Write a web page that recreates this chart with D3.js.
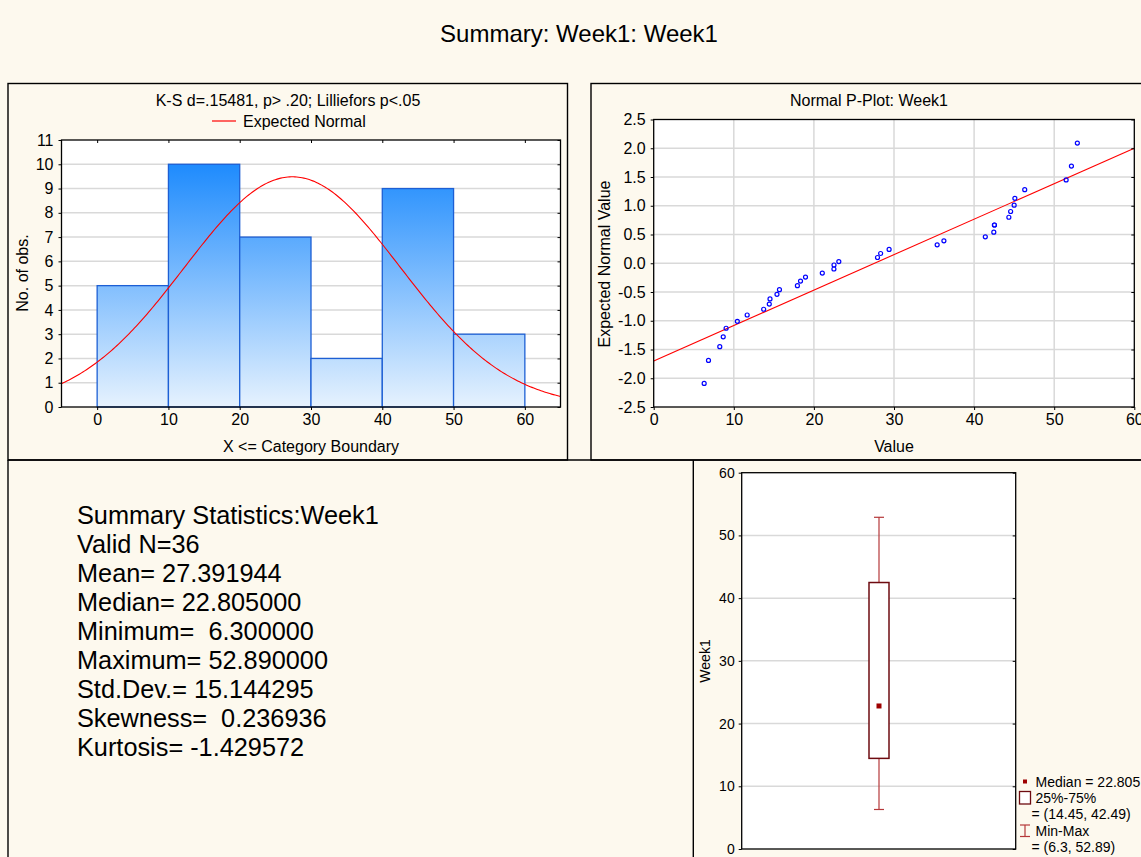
<!DOCTYPE html>
<html><head><meta charset="utf-8">
<script src="https://cdn.jsdelivr.net/npm/d3@7/dist/d3.min.js"></script>
<style>
html,body{margin:0;padding:0;background:#fdf9ee;}
svg{display:block;font-family:"Liberation Sans",Arial,sans-serif;}
text{fill:#000;}
</style></head>
<body>
<svg id="c" width="1141" height="857"></svg>
<script>
// ---------- DATA ----------
const mainTitle = "Summary: Week1: Week1";
const histTitle = "K-S d=.15481, p> .20; Lilliefors p<.05";
const binEdges = [0, 10, 20, 30, 40, 50, 60];
const binCounts = [5, 10, 7, 2, 9, 3];
const histYTicks = [0,1,2,3,4,5,6,7,8,9,10,11];
const histXTicks = [0,10,20,30,40,50,60];
const statMean = 27.391944, statSD = 15.144295, statN = 36;

const pValues = [6.30,6.84,8.25,8.68,9.04,10.44,11.67,13.73,14.43,14.52,15.39,15.70,17.94,18.33,18.95,21.05,22.50,22.51,23.11,27.94,28.33,29.39,35.39,36.23,41.40,42.46,42.54,42.54,44.34,44.56,45.00,45.09,46.32,51.49,52.15,52.89];
const pExpected = [-2.09,-1.69,-1.45,-1.28,-1.13,-1.01,-0.90,-0.80,-0.71,-0.62,-0.54,-0.46,-0.39,-0.31,-0.24,-0.17,-0.10,-0.03,0.03,0.10,0.17,0.24,0.32,0.39,0.46,0.54,0.665,0.665,0.80,0.90,1.01,1.13,1.28,1.45,1.69,2.09];
const pLineX = [0, 60];
const pLineY = [-1.70, 2.00];
const pXTicks = [0,10,20,30,40,50,60];
const pYTicks = [-2.5,-2.0,-1.5,-1.0,-0.5,0.0,0.5,1.0,1.5,2.0,2.5];

const boxStats = {min: 6.3, q1: 14.45, median: 22.805, q3: 42.49, max: 52.89};
const boxYTicks = [0,10,20,30,40,50,60];

const summaryLines = ["Summary Statistics:Week1","Valid N=36","Mean= 27.391944","Median= 22.805000","Minimum=  6.300000","Maximum= 52.890000","Std.Dev.= 15.144295","Skewness=  0.236936","Kurtosis= -1.429572"];
const legendLines = ["Median = 22.805","25%-75%","= (14.45, 42.49)","Min-Max","= (6.3, 52.89)"];

// ---------- DRAW ----------
const svg = d3.select("#c");
const grid = "#d9d9d9";

// panels
const frame = svg.append("g").attr("fill","none").attr("stroke","#000").attr("stroke-width",1.4);
frame.append("rect").attr("x",8).attr("y",83.5).attr("width",559.5).attr("height",376.5);
frame.append("rect").attr("x",591).attr("y",83.5).attr("width",560).attr("height",376.5);
frame.append("line").attr("x1",8).attr("x2",1141).attr("y1",460).attr("y2",460);
frame.append("line").attr("x1",8).attr("x2",8).attr("y1",460).attr("y2",857);
frame.append("line").attr("x1",693.3).attr("x2",693.3).attr("y1",460).attr("y2",857);

svg.append("text").attr("x",579).attr("y",42).attr("text-anchor","middle")
  .style("font-size","24px").text(mainTitle);

function styleAxis(g, fs){
  g.select(".domain").remove();
  g.selectAll(".tick line").attr("stroke","#000");
  g.selectAll(".tick text").style("font-size",fs).attr("fill","#000").style("font-family","'Liberation Sans',Arial,sans-serif");
}

// ===== Histogram =====
{
  const L=61.5, R=560.5, T=140, B=407;
  const x = d3.scaleLinear().domain([-5,65]).range([L,R]);
  const y = d3.scaleLinear().domain([0,11]).range([B,T]);
  const g = svg.append("g");
  const defs = svg.append("defs");
  const clip = defs.append("clipPath").attr("id","hclip");
  clip.append("rect").attr("x",L).attr("y",T).attr("width",R-L).attr("height",B-T);
  const grad = defs.append("linearGradient").attr("id","hgrad").attr("gradientUnits","userSpaceOnUse")
    .attr("x1",0).attr("x2",0).attr("y1",y(0)).attr("y2",y(10));
  grad.append("stop").attr("offset","0%").attr("stop-color","#e6f2fe");
  grad.append("stop").attr("offset","100%").attr("stop-color","#1e8bfd");

  g.append("rect").attr("x",L).attr("y",T).attr("width",R-L).attr("height",B-T).attr("fill","#fff");
  g.selectAll("line.gy").data(histYTicks.filter(d=>d>0 && d<11)).join("line")
    .attr("x1",L).attr("x2",R).attr("y1",d=>y(d)).attr("y2",d=>y(d)).attr("stroke",grid).attr("stroke-width",1.5);
  g.selectAll("rect.bar").data(binCounts).join("rect")
    .attr("x",(d,i)=>x(binEdges[i])).attr("width",(d,i)=>x(binEdges[i+1])-x(binEdges[i]))
    .attr("y",d=>y(d)).attr("height",d=>y(0)-y(d))
    .attr("fill","url(#hgrad)").attr("stroke","#1d5fd4").attr("stroke-width",1.3);
  const bw = binEdges[1]-binEdges[0];
  const pdf = v => statN*bw*Math.exp(-0.5*((v-statMean)/statSD)**2)/(statSD*Math.sqrt(2*Math.PI));
  const xs = d3.range(-5,65.01,0.25);
  g.append("path").datum(xs).attr("clip-path","url(#hclip)")
    .attr("d", d3.line().x(d=>x(d)).y(d=>y(pdf(d))))
    .attr("fill","none").attr("stroke","#ff0000").attr("stroke-width",1.1);
  g.append("rect").attr("x",L).attr("y",T).attr("width",R-L).attr("height",B-T).attr("fill","none").attr("stroke","#000").attr("stroke-width",1.3);

  const ay = g.append("g").attr("transform",`translate(${L},0)`).call(d3.axisLeft(y).tickValues(histYTicks).tickSize(3).tickPadding(5));
  styleAxis(ay,"16px");
  const ax = g.append("g").attr("transform",`translate(0,${B})`).call(d3.axisBottom(x).tickValues(histXTicks).tickSize(3).tickPadding(4));
  styleAxis(ax,"16px");
  const at = g.append("g").attr("transform",`translate(0,${T})`).call(d3.axisBottom(x).tickValues(histXTicks).tickSize(3).tickFormat(""));
  styleAxis(at,"16px");
  const ar = g.append("g").attr("transform",`translate(${R},0)`).call(d3.axisLeft(y).tickValues(histYTicks).tickSize(3).tickFormat(""));
  styleAxis(ar,"16px");

  g.append("text").attr("x",288).attr("y",106).attr("text-anchor","middle").style("font-size","16px").text(histTitle);
  g.append("line").attr("x1",212).attr("x2",236).attr("y1",121).attr("y2",121).attr("stroke","#ff0000").attr("stroke-width",1.2);
  g.append("text").attr("x",243).attr("y",126.5).style("font-size","16px").text("Expected Normal");
  g.append("text").attr("x",(L+R)/2).attr("y",452).attr("text-anchor","middle").style("font-size","16px").text("X <= Category Boundary");
  g.append("text").attr("transform",`translate(28,273) rotate(-90)`).attr("text-anchor","middle").style("font-size","16px").text("No. of obs.");
}

// ===== Normal P-Plot =====
{
  const L=653.7, R=1134.3, T=119.5, B=407;
  const x = d3.scaleLinear().domain([0,60]).range([L,R]);
  const y = d3.scaleLinear().domain([-2.5,2.5]).range([B,T]);
  const g = svg.append("g");
  g.append("rect").attr("x",L).attr("y",T).attr("width",R-L).attr("height",B-T).attr("fill","#fff");
  g.selectAll("line.gy").data(pYTicks.slice(1,-1)).join("line")
    .attr("x1",L).attr("x2",R).attr("y1",d=>y(d)).attr("y2",d=>y(d)).attr("stroke",grid).attr("stroke-width",1.5);
  g.selectAll("line.gx").data(pXTicks.slice(1,-1)).join("line")
    .attr("y1",T).attr("y2",B).attr("x1",d=>x(d)).attr("x2",d=>x(d)).attr("stroke",grid).attr("stroke-width",1.5);
  g.append("line").attr("x1",x(pLineX[0])).attr("x2",x(pLineX[1])).attr("y1",y(pLineY[0])).attr("y2",y(pLineY[1]))
    .attr("stroke","#ff0000").attr("stroke-width",1.1);
  g.selectAll("circle").data(pValues).join("circle")
    .attr("cx",d=>x(d)).attr("cy",(d,i)=>y(pExpected[i])).attr("r",2)
    .attr("fill","none").attr("stroke","#0000ff").attr("stroke-width",1.2);
  g.append("rect").attr("x",L).attr("y",T).attr("width",R-L).attr("height",B-T).attr("fill","none").attr("stroke","#000").attr("stroke-width",1.3);
  const fmt = d=>d.toFixed(1);
  const ay = g.append("g").attr("transform",`translate(${L},0)`).call(d3.axisLeft(y).tickValues(pYTicks).tickFormat(fmt).tickSize(3).tickPadding(5));
  styleAxis(ay,"16px");
  const ax = g.append("g").attr("transform",`translate(0,${B})`).call(d3.axisBottom(x).tickValues(pXTicks).tickSize(3).tickPadding(4));
  styleAxis(ax,"16px");
  const ar = g.append("g").attr("transform",`translate(${R},0)`).call(d3.axisLeft(y).tickValues(pYTicks).tickSize(3).tickFormat(""));
  styleAxis(ar,"16px");
  g.append("text").attr("x",869).attr("y",106).attr("text-anchor","middle").style("font-size","16px").text("Normal P-Plot: Week1");
  g.append("text").attr("x",894).attr("y",452).attr("text-anchor","middle").style("font-size","16px").text("Value");
  g.append("text").attr("transform",`translate(610,264) rotate(-90)`).attr("text-anchor","middle").style("font-size","16px").text("Expected Normal Value");
}

// ===== Summary text =====
{
  svg.append("g").selectAll("text").data(summaryLines).join("text")
    .attr("x",77).attr("y",(d,i)=>524+i*29).style("font-size","25.3px").style("white-space","pre")
    .attr("xml:space","preserve").text(d=>d);
}

// ===== Box plot =====
{
  const L=741.7, R=1015.7, T=472.7, B=849;
  const y = d3.scaleLinear().domain([0,60]).range([B,T]);
  const cx = 879, bw = 20, cw = 10;
  const g = svg.append("g");
  g.append("rect").attr("x",L).attr("y",T).attr("width",R-L).attr("height",B-T).attr("fill","#fff");
  g.selectAll("line.gy").data(boxYTicks.slice(1,-1)).join("line")
    .attr("x1",L).attr("x2",R).attr("y1",d=>y(d)).attr("y2",d=>y(d)).attr("stroke",grid).attr("stroke-width",1.5);
  const wc = "#b5383a";
  g.append("line").attr("x1",cx).attr("x2",cx).attr("y1",y(boxStats.max)).attr("y2",y(boxStats.q3)).attr("stroke",wc).attr("stroke-width",1.2);
  g.append("line").attr("x1",cx).attr("x2",cx).attr("y1",y(boxStats.q1)).attr("y2",y(boxStats.min)).attr("stroke",wc).attr("stroke-width",1.2);
  [boxStats.max, boxStats.min].forEach(v=>{
    g.append("line").attr("x1",cx-cw/2).attr("x2",cx+cw/2).attr("y1",y(v)).attr("y2",y(v)).attr("stroke",wc).attr("stroke-width",1.2);
  });
  g.append("rect").attr("x",cx-bw/2).attr("width",bw).attr("y",y(boxStats.q3)).attr("height",y(boxStats.q1)-y(boxStats.q3))
    .attr("fill","#fff").attr("stroke","#6e0b10").attr("stroke-width",1.5);
  g.append("rect").attr("x",cx-2.5).attr("y",y(boxStats.median)-2.5).attr("width",5).attr("height",5).attr("fill","#9e0000");
  g.append("rect").attr("x",L).attr("y",T).attr("width",R-L).attr("height",B-T).attr("fill","none").attr("stroke","#000").attr("stroke-width",1.3);
  const ay = g.append("g").attr("transform",`translate(${L},0)`).call(d3.axisLeft(y).tickValues(boxYTicks).tickSize(3).tickPadding(4));
  styleAxis(ay,"14px");
  const ar = g.append("g").attr("transform",`translate(${R},0)`).call(d3.axisLeft(y).tickValues(boxYTicks).tickSize(3).tickFormat(""));
  styleAxis(ar,"14px");
  g.append("text").attr("transform",`translate(710,661) rotate(-90)`).attr("text-anchor","middle").style("font-size","14px").text("Week1");

  // legend
  g.append("rect").attr("x",1023).attr("y",779.5).attr("width",4).attr("height",4).attr("fill","#9e0000");
  g.append("rect").attr("x",1019.5).attr("y",791.5).attr("width",11).attr("height",12.5).attr("fill","#fff").attr("stroke","#6e0b10").attr("stroke-width",1.3);
  g.append("line").attr("x1",1025).attr("x2",1025).attr("y1",825).attr("y2",836.5).attr("stroke",wc).attr("stroke-width",1.2);
  g.append("line").attr("x1",1020).attr("x2",1030).attr("y1",825).attr("y2",825).attr("stroke",wc).attr("stroke-width",1.2);
  g.append("line").attr("x1",1020).attr("x2",1030).attr("y1",836.5).attr("y2",836.5).attr("stroke",wc).attr("stroke-width",1.2);
  const lx = [1035.5,1035.5,1031.5,1035.5,1031.5];
  const ly = [786.5,803,819,835.5,851.5];
  g.selectAll("text.lg").data(legendLines).join("text").attr("class","lg")
    .attr("x",(d,i)=>lx[i]).attr("y",(d,i)=>ly[i]).style("font-size","14px").text(d=>d);
}
</script>
</body></html>
